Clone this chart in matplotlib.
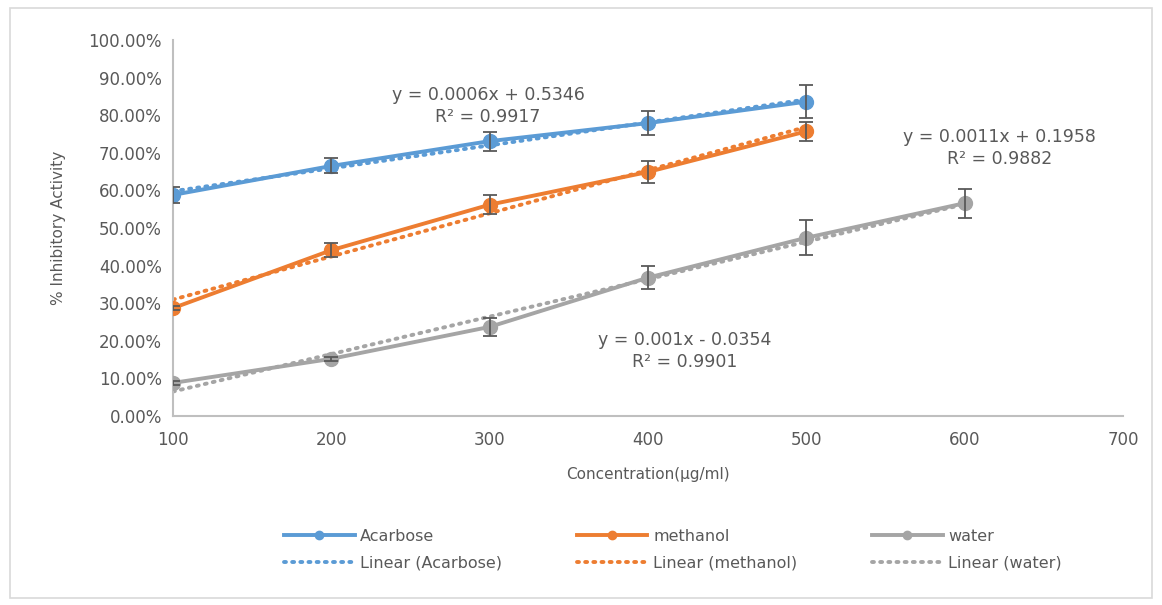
import numpy as np
import matplotlib
matplotlib.use("Agg")
import matplotlib.pyplot as plt
from matplotlib.patches import Rectangle

plt.rcParams['font.family'] = ['DejaVu Sans']

conc_ac = [100, 200, 300, 400, 500]
acarbose = [58.8, 66.5, 73.1, 77.9, 83.6]
acarbose_err = [2.1, 2.0, 2.5, 3.2, 4.3]

conc_me = [100, 200, 300, 400, 500]
methanol = [28.7, 44.1, 56.2, 64.9, 75.7]
methanol_err = [0.5, 1.9, 2.5, 3.0, 2.5]

conc_wa = [100, 200, 300, 400, 500, 600]
water = [8.8, 15.2, 23.7, 36.8, 47.4, 56.6]
water_err = [0.5, 0.5, 2.3, 3.1, 4.6, 3.9]

names = ['Acarbose', 'methanol', 'water']
colors = ['#5B9BD5', '#ED7D31', '#A5A5A5']
eq_texts = ['y = 0.0006x + 0.5346\nR² = 0.9917',
            'y = 0.0011x + 0.1958\nR² = 0.9882',
            'y = 0.001x - 0.0354\nR² = 0.9901']

fig = plt.figure(figsize=(11.62, 6.05), dpi=100)
fig.patches.append(Rectangle((10/1162, 7/605), 1142/1162, 590/605, transform=fig.transFigure,
                             fill=False, edgecolor='#D9D9D9', linewidth=1.2))
ax = fig.add_axes([173/1162, 1 - 416/605, (1123-173)/1162, (416-40)/605])

txt = '#595959'
series = [(conc_ac, acarbose, acarbose_err), (conc_me, methanol, methanol_err), (conc_wa, water, water_err)]
main_handles = []
trend_handles = []
for (x, y, e), name, c in zip(series, names, colors):
    x = np.array(x, float); y = np.array(y, float)
    coef = np.polyfit(x, y, 1)
    xt = np.array([x.min(), x.max()])
    th, = ax.plot(xt, np.polyval(coef, xt), linestyle=(0, (0.5, 1.6)), dash_capstyle='round',
                  color=c, linewidth=2.8, zorder=2, label='Linear (%s)' % name)
    h, = ax.plot(x, y, color=c, linewidth=2.8, marker='o', markersize=10, zorder=3, label=name)
    ax.errorbar(x, y, yerr=e, fmt='none', ecolor='#595959', elinewidth=1.3, capsize=5,
                capthick=1.3, zorder=4)
    main_handles.append(h); trend_handles.append(th)

ax.set_xlim(100, 700)
ax.set_ylim(0, 100)
ax.set_xticks(range(100, 701, 100))
ax.set_yticks(range(0, 101, 10))
ax.set_yticklabels(['%.2f%%' % v for v in range(0, 101, 10)])
for s in ['top', 'right']:
    ax.spines[s].set_visible(False)
for s in ['left', 'bottom']:
    ax.spines[s].set_color('#BFBFBF')
    ax.spines[s].set_linewidth(1.5)
ax.tick_params(axis='both', length=0, labelsize=12, colors=txt, pad=8)
ax.tick_params(axis='x', pad=11)

ax.set_xlabel('Concentration(µg/ml)', fontsize=11, color=txt, labelpad=13)
ax.set_ylabel('% Inhibitory Activity', fontsize=11, color=txt, labelpad=16)

kw = dict(ha='center', va='center', fontsize=12.5, color=txt, linespacing=1.25)
ax.text(299, 82.4, eq_texts[0], **kw)
ax.text(622, 71.3, eq_texts[1], **kw)
ax.text(423, 17.3, eq_texts[2], **kw)

handles = []
for h, th in zip(main_handles, trend_handles):
    handles += [h, th]
leg = fig.legend(handles=handles, loc='center', bbox_to_anchor=(673/1162, 1 - 550/605), ncol=3,
                 frameon=False, fontsize=11.5, handlelength=4.4, handletextpad=0.35,
                 columnspacing=4.7, labelspacing=0.75, markerscale=0.6)
for t in leg.get_texts():
    t.set_color(txt)

fig.savefig('out.png', dpi=100)
